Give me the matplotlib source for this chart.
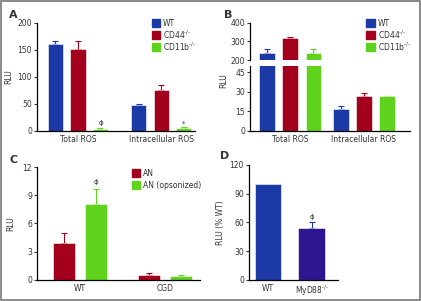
import numpy as np
import matplotlib
matplotlib.use("Agg")
import matplotlib.pyplot as plt
from matplotlib.patches import Rectangle

# ---- data ----
groups_ab = ["Total ROS", "Intracellular ROS"]
genotypes_ab = ["WT", "CD44$^{\\text{-/-}}$", "CD11b$^{\\text{-/-}}$"]

a_mean = [[161, 48], [152, 75], [4, 5]]
a_err = [[5, 2], [15, 10], [1, 2]]

b_mean = [[240, 17], [320, 26.5], [237, 26.5]]
b_err = [[22, 2], [5, 2.5], [20, 0.5]]

groups_c = ["WT", "CGD"]
series_c = ["AN", "AN (opsonized)"]
c_mean = [[3.9, 0.5], [8.1, 0.45]]
c_err = [[1.1, 0.2], [1.6, 0.1]]

groups_d = ["WT", "MyD88$^{\\text{-/-}}$"]
d_mean = [100, 54]
d_err = [0, 6]

blue = "#1b3aa6"
red = "#a3001e"
green = "#5fd31c"
purple = "#2d1690"
txt = "#333333"

plt.rcParams["font.family"] = "DejaVu Sans"
plt.rcParams["font.size"] = 5
plt.rcParams["text.color"] = txt
plt.rcParams["axes.labelcolor"] = txt
plt.rcParams["xtick.color"] = txt
plt.rcParams["ytick.color"] = txt
plt.rcParams["axes.linewidth"] = 0.9
plt.rcParams["mathtext.default"] = "regular"

fig = plt.figure(figsize=(4.21, 3.01), dpi=100)
fig.patches.append(Rectangle((0.003, 0.003), 0.994, 0.994, transform=fig.transFigure,
                             fill=False, edgecolor="#777777", linewidth=1.2))


def style(ax):
    ax.spines["top"].set_visible(False)
    ax.spines["right"].set_visible(False)
    ax.tick_params(axis="x", length=0, pad=3, labelsize=5.5)
    ax.tick_params(axis="y", length=2, width=0.8, pad=1.5, labelsize=5.5)


def bars(ax, x, h, e, color, w):
    x = np.asarray(x, dtype=float)
    h = np.asarray(h, dtype=float)
    e = np.asarray(e, dtype=float)
    ax.bar(x, h, width=w, color=color, edgecolor="white", linewidth=0.4, zorder=2)
    m = e > 0
    ax.errorbar(x[m], h[m], yerr=[np.zeros(m.sum()), e[m]], fmt="none", ecolor=color,
                elinewidth=0.8, capsize=2, capthick=0.8, zorder=1)


# ---- panel A ----
axA = fig.add_axes([0.088, 0.565, 0.375, 0.359])
sep_a = 3.7
cols = [blue, red, green]
for i in range(3):
    x = np.arange(2) * sep_a + (i - 1)
    bars(axA, x, a_mean[i], a_err[i], cols[i], 0.67)
axA.set_xlim(-1.82, 5.2)
axA.set_ylim(0, 200)
axA.set_yticks([0, 50, 100, 150, 200])
axA.set_xticks(np.arange(2) * sep_a)
axA.set_xticklabels(groups_ab)
axA.set_ylabel("RLU", fontsize=5.5, labelpad=3)
style(axA)
axA.text(1, a_mean[2][0] + a_err[2][0] + 4, "ϕ", ha="center", va="bottom", fontsize=5)
axA.text(1 + sep_a, a_mean[2][1] + a_err[2][1] + 1, "*", ha="center", va="bottom", fontsize=5)
for i, lab in enumerate(genotypes_ab):
    fig.patches.append(Rectangle((152 / 421, 1 - (27 + 12 * i) / 301), 8 / 421, 8 / 301,
                                 transform=fig.transFigure, color=cols[i]))
    fig.text(163 / 421, 1 - (23 + 12 * i) / 301, lab, va="center", fontsize=5.5)
fig.text(9 / 421, 1 - 15 / 301, "A", fontsize=8, fontweight="bold", va="center")

# ---- panel B (broken axis) ----
sep_b = 3.2
axB1 = fig.add_axes([0.594, 0.800, 0.380, 0.125])
axB2 = fig.add_axes([0.594, 0.566, 0.380, 0.215])
for i in range(3):
    x = np.arange(2) * sep_b + (i - 1)
    bars(axB1, x, b_mean[i], b_err[i], cols[i], 0.67)
    bars(axB2, x, b_mean[i], b_err[i], cols[i], 0.67)
for ax in (axB1, axB2):
    ax.set_xlim(-1.74, 5.2)
    style(ax)
axB1.set_ylim(200, 400)
axB1.set_yticks([200, 300, 400])
axB1.spines["bottom"].set_visible(False)
axB1.set_xticks([])
axB2.set_ylim(0, 50)
axB2.set_yticks([0, 15, 30, 45])
axB2.set_xticks(np.arange(2) * sep_b)
axB2.set_xticklabels(groups_ab)
fig.text(224 / 421, 1 - 81 / 301, "RLU", rotation=90, va="center", ha="center", fontsize=5.5)
for i, lab in enumerate(genotypes_ab):
    fig.patches.append(Rectangle((366 / 421, 1 - (27 + 12 * i) / 301), 9 / 421, 8 / 301,
                                 transform=fig.transFigure, color=cols[i]))
    fig.text(378 / 421, 1 - (23 + 12 * i) / 301, lab, va="center", fontsize=5.5)
fig.text(224 / 421, 1 - 15 / 301, "B", fontsize=8, fontweight="bold", va="center")

# ---- panel C ----
axC = fig.add_axes([0.088, 0.070, 0.387, 0.375])
sep_c = 2.66
cols_c = [red, green]
for i in range(2):
    x = np.arange(2) * sep_c + (i - 0.5)
    bars(axC, x, c_mean[i], c_err[i], cols_c[i], 0.69)
axC.set_xlim(-1.34, 3.75)
axC.set_ylim(0, 12)
axC.set_yticks([0, 3, 6, 9, 12])
axC.set_xticks(np.arange(2) * sep_c)
axC.set_xticklabels(groups_c)
axC.set_ylabel("RLU", fontsize=5.5, labelpad=5)
style(axC)
axC.text(0.5, c_mean[1][0] + c_err[1][0] + 0.4, "ϕ", ha="center", va="bottom", fontsize=5)
for i, lab in enumerate(series_c):
    fig.patches.append(Rectangle((132 / 421, 1 - (177 + 12 * i) / 301), 8 / 421, 8 / 301,
                                 transform=fig.transFigure, color=cols_c[i]))
    fig.text(143 / 421, 1 - (173 + 12 * i) / 301, lab, va="center", fontsize=5.5)
fig.text(9 / 421, 1 - 160 / 301, "C", fontsize=8, fontweight="bold", va="center")

# ---- panel D ----
axD = fig.add_axes([0.591, 0.070, 0.212, 0.382])
bars(axD, [0, 1], d_mean, d_err, blue, 0.6)
axD.patches[1].set_facecolor(purple)
axD.set_xlim(-0.43, 1.6)
axD.set_ylim(0, 120)
axD.set_yticks([0, 30, 60, 90, 120])
axD.set_xticks([0, 1])
axD.set_xticklabels(groups_d)
axD.set_ylabel("RLU (% WT)", fontsize=5.5, labelpad=3)
style(axD)
axD.text(1, d_mean[1] + d_err[1] + 3, "ϕ", ha="center", va="bottom", fontsize=5)
fig.text(220 / 421, 1 - 156 / 301, "D", fontsize=8, fontweight="bold", va="center")

fig.savefig("out.png", dpi=100)
